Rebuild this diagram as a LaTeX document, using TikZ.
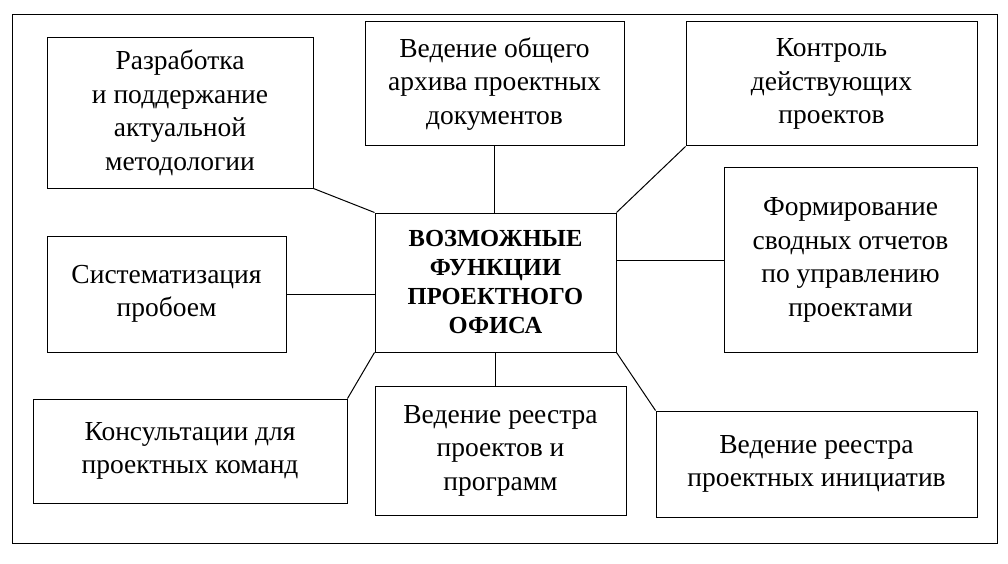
\documentclass[tikz,border=0pt]{standalone}
\usepackage{fontspec}
\setmainfont{Liberation Serif}
\begin{document}
\begin{tikzpicture}[x=1pt,y=-1pt,
  box/.style={draw,line width=1pt,align=center,inner sep=0pt,font=\fontsize{27.5}{33.5}\selectfont},
  ln/.style={line width=1pt}]
\useasboundingbox (0,0) rectangle (1008,564);
\draw[line width=0.8pt] (12,14) rectangle (997,543);
\newcommand\bx[6]{\node[box,minimum width=#4-#2,minimum height=#5-#3] (#1) at ({(#2+#4)/2},{(#3+#5)/2}) {#6};}
\node[box,minimum width=241,minimum height=139,font=\fontsize{24.5}{29}\selectfont\bfseries] (c) at (495.5,282.5) {ВОЗМОЖНЫЕ\\ФУНКЦИИ\\ПРОЕКТНОГО\\ОФИСА};
\bx{b1}{47}{38}{313}{188}{Разработка\\и поддержание\\актуальной\\методологии}
\bx{b2}{365}{22}{624}{146}{Ведение общего\\архива проектных\\документов}
\bx{b3}{686}{22}{977}{146}{Контроль\\действующих\\проектов}
\bx{b4}{724}{168}{977}{352}{Формирование\\сводных отчетов\\по управлению\\проектами}
\bx{b5}{47}{236}{286}{352}{Систематизация\\пробоем}
\bx{b6}{33}{399}{347}{503}{Консультации для\\проектных команд}
\bx{b7}{375}{386}{626}{515}{Ведение реестра\\проектов и\\программ}
\bx{b8}{656}{411}{977}{517}{Ведение реестра\\проектных инициатив}
\draw[ln] (b1.south east) -- (c.north west);
\draw[ln] (b2.south) -- (b2.south |- c.north);
\draw[ln] (b3.south west) -- (c.north east);
\draw[ln] (b4.west) -- (b4.west -| c.east);
\draw[ln] (b5.east) -- (b5.east -| c.west);
\draw[ln] (b6.north east) -- (c.south west);
\draw[ln] (c.south) -- (c.south |- b7.north);
\draw[ln] (b8.north west) -- (c.south east);
\end{tikzpicture}
\end{document}
